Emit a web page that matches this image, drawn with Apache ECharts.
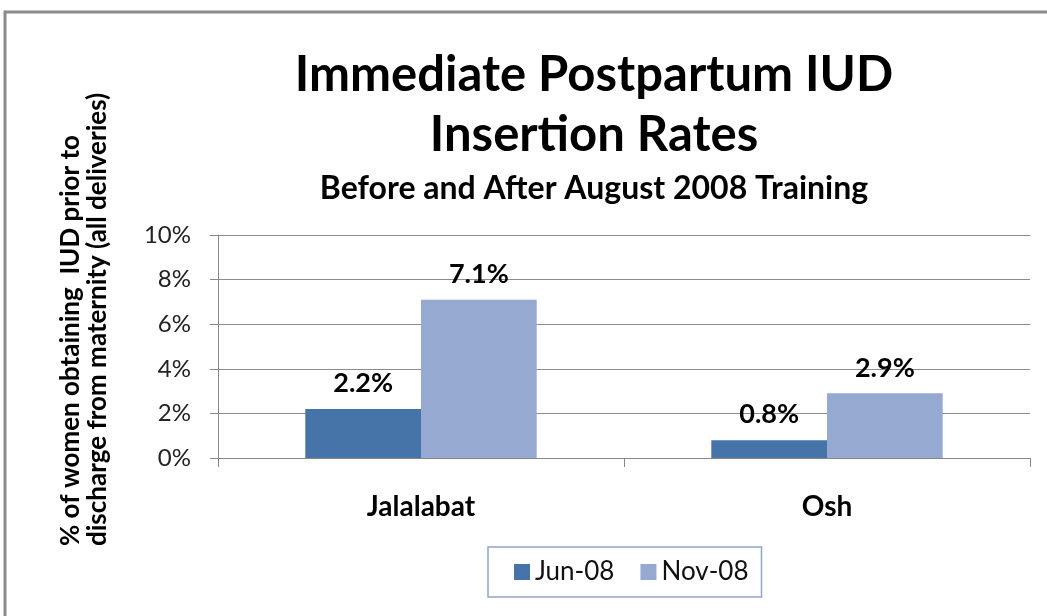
<!DOCTYPE html>
<html>
<head>
<meta charset="utf-8">
<script src="https://cdn.jsdelivr.net/npm/echarts@6/dist/echarts.min.js"></script>
<style>
html, body { margin: 0; padding: 0; background: #fff; }
#main { width: 1047px; height: 616px; }
</style>
</head>
<body>
<div id="main"></div>
<script>
var myChart = echarts.init(document.getElementById('main'), null, {renderer: 'canvas'});

// data
var sites = ['Jalalabat', 'Osh'];
var jun08 = [2.2, 0.8];
var nov08 = [7.1, 2.9];
var yTicks = [0, 2, 4, 6, 8, 10];
var yName = '% of women obtaining  IUD prior to\ndischarge from maternity (all deliveries)';

var font = 'Lato, "Open Sans", sans-serif';

function pct(p) { return p.value.toFixed(1) + '%'; }

option = {
    backgroundColor: '#fff',
    textStyle: {fontFamily: font},
    graphic: [{
        type: 'rect',
        shape: {x: 5, y: 12, width: 1060, height: 620},
        style: {fill: 'none', stroke: '#8a8a8a', lineWidth: 3},
        silent: true
    }, {
        // y axis title, left aligned like the original
        type: 'text',
        x: 84,
        y: 546,
        rotation: Math.PI / 2,
        style: {
            text: yName,
            font: 'bold 26px ' + font,
            fill: '#000',
            lineHeight: 27,
            textAlign: 'left',
            textVerticalAlign: 'middle'
        },
        silent: true
    }],
    title: {
        text: 'Immediate Postpartum IUD\nInsertion Rates',
        subtext: 'Before and After August 2008 Training',
        left: 589,
        top: 40,
        textAlign: 'center',
        itemGap: 8,
        textStyle: {fontFamily: font, fontSize: 49, fontWeight: 'bold', color: '#000', lineHeight: 60},
        subtextStyle: {fontFamily: font, fontSize: 32, fontWeight: 'bold', color: '#000', lineHeight: 32}
    },
    legend: {
        data: ['Jun-08', 'Nov-08'],
        left: 488,
        top: 547,
        padding: [12, 13, 12, 26],
        borderColor: '#8ea4cc',
        borderWidth: 1.5,
        itemWidth: 16,
        itemHeight: 16,
        itemGap: 26,
        icon: 'rect',
        textStyle: {fontFamily: font, fontSize: 26, color: '#111'}
    },
    grid: {left: 218, right: 17, top: 235, bottom: 158},
    xAxis: {
        type: 'category',
        data: sites,
        axisLine: {lineStyle: {color: '#888', width: 1}},
        axisTick: {show: true, length: 9, lineStyle: {color: '#888'}},
        axisLabel: {margin: 35, fontSize: 28, fontWeight: 'bold', color: '#000', fontFamily: font}
    },
    yAxis: {
        type: 'value',
        min: 0,
        max: 10,
        interval: 2,
        axisLine: {show: true, lineStyle: {color: '#888'}},
        axisTick: {show: true, length: 8, lineStyle: {color: '#888'}},
        axisLabel: {
            margin: 27, fontSize: 24, color: '#222', fontFamily: font,
            formatter: function (v) { return yTicks.indexOf(v) >= 0 ? v + '%' : ''; }
        },
        splitLine: {lineStyle: {color: '#8c8c8c', width: 1}}
    },
    series: [{
        name: 'Jun-08',
        type: 'bar',
        data: jun08,
        barGap: '0%',
        barCategoryGap: '43%',
        itemStyle: {color: '#4674a8'},
        label: {
            show: true, position: 'top', distance: 12,
            fontFamily: font, fontSize: 27, fontWeight: 'bold', color: '#000',
            formatter: pct
        }
    }, {
        name: 'Nov-08',
        type: 'bar',
        data: nov08,
        itemStyle: {color: '#95a9d1'},
        label: {
            show: true, position: 'top', distance: 12,
            fontFamily: font, fontSize: 27, fontWeight: 'bold', color: '#000',
            formatter: pct
        }
    }]
};

myChart.setOption(option);
</script>
</body>
</html>
